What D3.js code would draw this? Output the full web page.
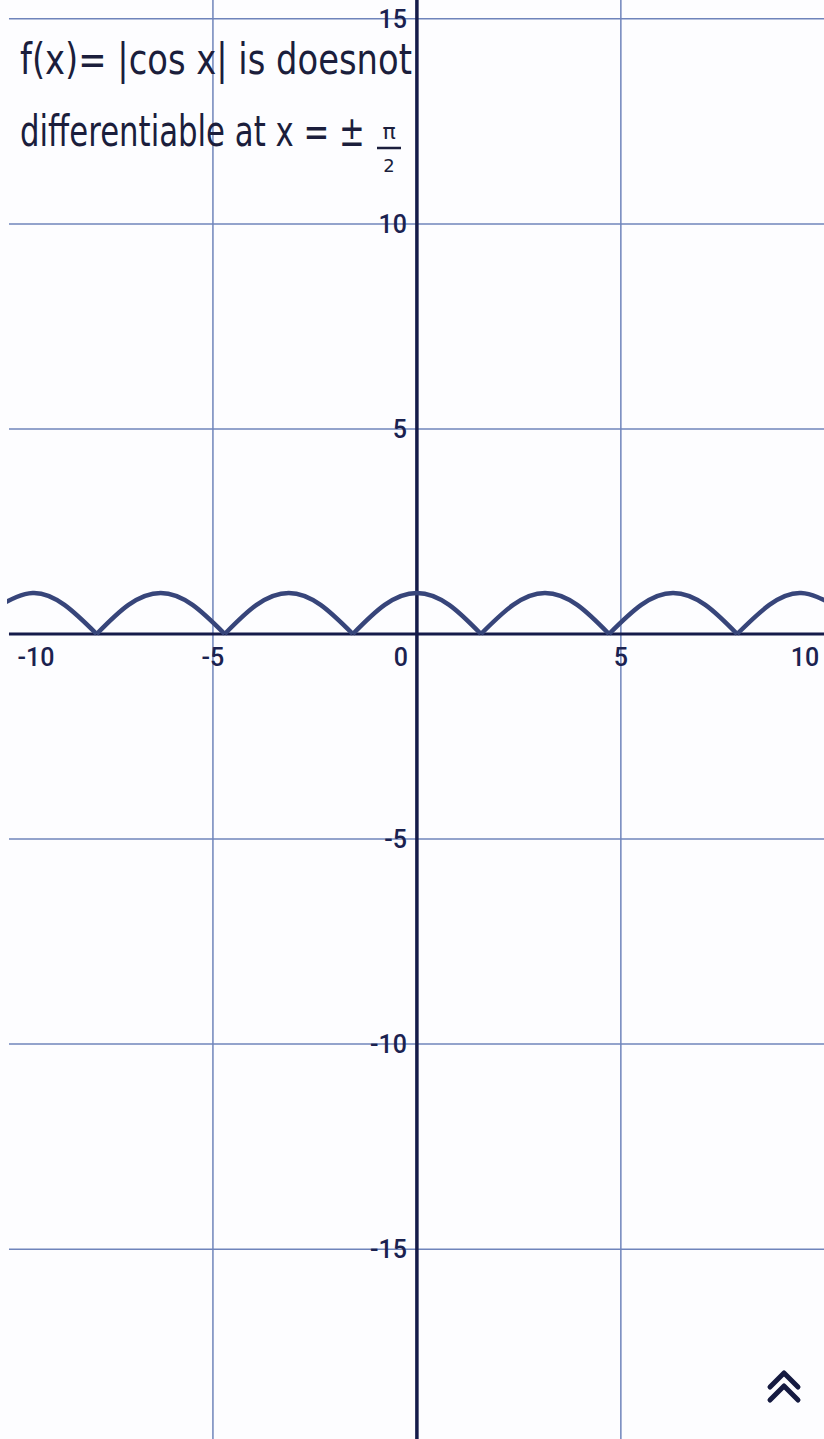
<!DOCTYPE html>
<html>
  <head>
    <script src="https://d3js.org/d3.v7.min.js"></script>
    <style>
      body { margin: 0; background: #fff; }
    </style>
  </head>
  <body>
    <script>

// f(x) = |cos x| (zeros, quarter points, peaks)
const curveX = [-10.21, -9.42, -8.64, -7.85, -7.07, -6.28, -5.50, -4.71, -3.93, -3.14, -2.36, -1.57, -0.79,
                0, 0.79, 1.57, 2.36, 3.14, 3.93, 4.71, 5.50, 6.28, 7.07, 7.85, 8.64, 9.42, 10.21];
const curveY = [0.71, 1, 0.71, 0, 0.71, 1, 0.71, 0, 0.71, 1, 0.71, 0, 0.71,
                1, 0.71, 0, 0.71, 1, 0.71, 0, 0.71, 1, 0.71, 0, 0.71, 1, 0.71];

const xTicks = [-10, -5, 0, 5, 10];
const yTicks = [15, 10, 5, -5, -10, -15];
const xGrid = [-5, 5, 10];

const note1 = "f(x)= |cos x| is doesnot";
const note2 = "differentiable at x = \u00b1";

const width = 824;
const height = 1439;

const x = d3.scaleLinear().domain([-10.22, 9.98]).range([0, width]);
const y = d3.scaleLinear().domain([15.46, -19.63]).range([0, height]);

const svg = d3.select("body").append("svg")
    .attr("width", width)
    .attr("height", height)
    .style("display", "block");

svg.append("rect").attr("width", width).attr("height", height).attr("fill", "#fdfdff");

// grid
svg.append("g").selectAll("line")
  .data(xGrid)
  .join("line")
    .attr("x1", d => x(d)).attr("x2", d => x(d))
    .attr("y1", 0).attr("y2", height)
    .attr("stroke", "#6f84bb")
    .attr("stroke-width", 1.5);

svg.append("g").selectAll("line")
  .data(yTicks)
  .join("line")
    .attr("x1", x(-10)).attr("x2", width)
    .attr("y1", d => y(d)).attr("y2", d => y(d))
    .attr("stroke", "#6f84bb")
    .attr("stroke-width", 1.5);

// axes
svg.append("line")
    .attr("x1", x(-10)).attr("x2", width)
    .attr("y1", y(0)).attr("y2", y(0))
    .attr("stroke", "#151b4a").attr("stroke-width", 3);

svg.append("line")
    .attr("x1", x(0)).attr("x2", x(0))
    .attr("y1", 0).attr("y2", height)
    .attr("stroke", "#151b4a").attr("stroke-width", 3.5);

// curve, one arch between each pair of zeros
const pts = curveX.map((d, i) => [d, curveY[i]]);
const arches = [];
let cur = [];
pts.forEach(p => {
  cur.push(p);
  if (p[1] === 0) { arches.push(cur); cur = [p]; }
});
arches.push(cur);

const line = d3.line()
    .x(d => x(d[0]))
    .y(d => y(d[1]))
    .curve(d3.curveNatural);

svg.append("defs").append("clipPath").attr("id", "clip")
  .append("rect").attr("x", x(-10.05)).attr("y", 0).attr("width", width).attr("height", height);

svg.append("g").attr("clip-path", "url(#clip)")
  .selectAll("path")
  .data(arches)
  .join("path")
    .attr("d", line)
    .attr("fill", "none")
    .attr("stroke", "#37457a")
    .attr("stroke-width", 4.5)
    .attr("stroke-linejoin", "round");

// tick labels
const lab = svg.append("g")
    .attr("font-family", "Roboto, 'Open Sans', sans-serif")
    .attr("font-size", 25)
    .attr("font-weight", 500)
    .attr("fill", "#1b2250");

lab.selectAll(".xl")
  .data(xTicks)
  .join("text")
    .attr("class", "xl")
    .attr("x", d => d === 0 ? x(0) - 9 : Math.min(Math.max(x(d), 36), 805))
    .attr("y", y(0) + 32)
    .attr("text-anchor", d => d === 0 ? "end" : "middle")
    .text(d => d < 0 ? "-" + (-d) : d);

lab.selectAll(".yl")
  .data(yTicks)
  .join("text")
    .attr("class", "yl")
    .attr("x", x(0) - 10)
    .attr("y", d => y(d) + 9)
    .attr("text-anchor", "end")
    .text(d => d < 0 ? "-" + (-d) : d);

// handwritten note, squeezed horizontally to the width it takes in the photo
function squeezed(txt, x0, y0, w) {
  const t = svg.append("text")
      .attr("font-family", "'DejaVu Sans', sans-serif")
      .attr("font-size", 42)
      .attr("fill", "#1b1e3c")
      .text(txt);
  const k = w / t.node().getComputedTextLength();
  t.attr("transform", `translate(${x0},${y0}) scale(${k},1)`);
}
squeezed(note1, 20, 74, 392);
squeezed(note2, 20, 146, 345);

svg.append("text")
    .attr("x", 389).attr("y", 139)
    .attr("font-family", "'DejaVu Sans', sans-serif")
    .attr("font-size", 22).attr("text-anchor", "middle")
    .attr("fill", "#1b1e3c")
    .text("\u03c0");
svg.append("line")
    .attr("x1", 377).attr("x2", 401).attr("y1", 148).attr("y2", 148)
    .attr("stroke", "#1b1e3c").attr("stroke-width", 2.5);
svg.append("text")
    .attr("x", 389).attr("y", 172)
    .attr("font-family", "'DejaVu Sans', sans-serif")
    .attr("font-size", 18).attr("text-anchor", "middle")
    .attr("fill", "#1b1e3c")
    .text("2");

// double chevron button
const chev = svg.append("g")
    .attr("fill", "none")
    .attr("stroke", "#151a40")
    .attr("stroke-width", 5)
    .attr("stroke-linecap", "round")
    .attr("stroke-linejoin", "round");
chev.append("path").attr("d", "M770,1387 L784,1373 L798,1387");
chev.append("path").attr("d", "M770,1400 L784,1386 L798,1400");

    </script>
  </body>
</html>
